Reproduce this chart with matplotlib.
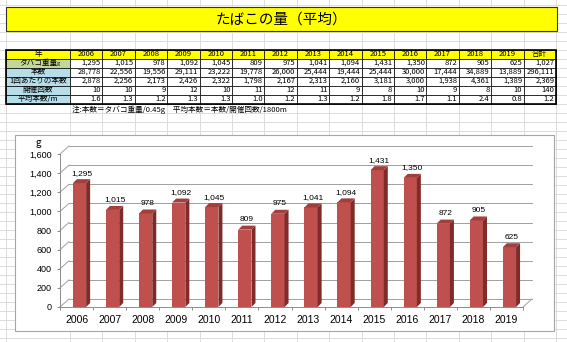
import numpy as np
import matplotlib
matplotlib.use("Agg")
import matplotlib.pyplot as plt
from matplotlib.patches import Rectangle, Polygon

plt.rcParams["font.family"] = ["Noto Sans CJK JP", "DejaVu Sans"]

# ---- data ----
title = "たばこの量（平均）"
row_labels = ["年", "タバコ重量", "本数", "1回あたりの本数", "開催回数", "平均本数/m"]
years = [2006, 2007, 2008, 2009, 2010, 2011, 2012, 2013, 2014, 2015, 2016, 2017, 2018, 2019]
weight = [1295, 1015, 978, 1092, 1045, 809, 975, 1041, 1094, 1431, 1350, 872, 905, 625]
count = [28778, 22556, 19556, 29111, 23222, 19778, 26000, 25444, 19444, 25444, 30000, 17444, 34889, 13889]
per_event = [2878, 2256, 2173, 2426, 2322, 1798, 2167, 2313, 2160, 3181, 3000, 1938, 4361, 1389]
events = [10, 10, 9, 12, 10, 11, 12, 11, 9, 8, 10, 9, 8, 10]
avg_per_m = [1.6, 1.3, 1.2, 1.3, 1.3, 1.0, 1.2, 1.3, 1.2, 1.8, 1.7, 1.1, 2.4, 0.8]
totals = ["1,027", "296,111", "2,369", "140", "1.2"]
note = "注:本数＝タバコ重量/0.45g　平均本数＝本数/開催回数/1800m"
y_ticks = [0, 200, 400, 600, 800, 1000, 1200, 1400, 1600]

W, H = 567, 342
fig = plt.figure(figsize=(W / 100, H / 100), dpi=100)

# sheet background in pixel units
bg = fig.add_axes([0, 0, 1, 1])
bg.set_xlim(0, W)
bg.set_ylim(H, 0)
bg.axis("off")

col_w = 32.4
col_edges = [6] + [70 + col_w * k for k in range(16)]
row_h = 9.0
top = 49.5
for x in col_edges:
    bg.axvline(x, color="#DCDCDC", lw=0.7, zorder=0)
for y in np.arange(top - 5 * row_h, H, row_h):
    bg.axhline(y, color="#DCDCDC", lw=0.7, zorder=0)

# title bar
bg.add_patch(Rectangle((6, 7), 551, 24, facecolor="#FFFF00", edgecolor="#333333", lw=0.8, zorder=2))
bg.text(281, 19.5, title, ha="center", va="center", fontsize=10.5, zorder=3)

# table
fmt_rows = [
    [f"{v:,}" for v in weight],
    [f"{v:,}" for v in count],
    [f"{v:,}" for v in per_event],
    [str(v) for v in events],
    [f"{v:.1f}" for v in avg_per_m],
]
label_colors = ["#FFFF00", "#C4D79B", "#B7DEE8", "#B7DEE8", "#B7DEE8", "#B7DEE8"]
for r in range(6):
    y0 = top + r * row_h
    bg.add_patch(Rectangle((col_edges[0], y0), col_edges[1] - col_edges[0], row_h,
                           facecolor=label_colors[r], edgecolor="black", lw=0.5, zorder=2))
    bg.text((col_edges[0] + col_edges[1]) / 2, y0 + row_h / 2, row_labels[r],
            ha="center", va="center", fontsize=5.5, zorder=3)
    for c in range(15):
        x0 = col_edges[c + 1]
        face = "#FFFF00" if r == 0 else "white"
        bg.add_patch(Rectangle((x0, y0), col_w, row_h, facecolor=face, edgecolor="black", lw=0.5, zorder=2))
        if r == 0:
            txt = str(years[c]) if c < 14 else "合計"
            bg.text(x0 + col_w / 2, y0 + row_h / 2, txt, ha="center", va="center", fontsize=5.5, zorder=3)
        else:
            txt = fmt_rows[r - 1][c] if c < 14 else totals[r - 1]
            bg.text(x0 + col_w - 1.5, y0 + row_h / 2, txt, ha="right", va="center", fontsize=5.5, zorder=3)
bg.text(58, top + 1.6 * row_h, "g", ha="center", va="center", fontsize=4, zorder=3)
bg.add_patch(Rectangle((col_edges[0], top), col_edges[-1] - col_edges[0], 6 * row_h,
                       facecolor="none", edgecolor="black", lw=1.2, zorder=4))
bg.text(72, top + 6 * row_h + 6.5, note, ha="left", va="center", fontsize=5.5, zorder=3)

# chart box
bg.add_patch(Rectangle((15, 135), 539, 196, facecolor="white", edgecolor="#A6A6A6", lw=0.8, zorder=2))
bg.text(38, 142.5, "g", ha="center", va="center", fontsize=7, zorder=3)

# chart axes
ax = fig.add_axes([60 / W, (H - 307) / H, 463 / W, 153 / H])
ax.patch.set_visible(False)
ax.set_xlim(-0.5, 13.5)
ax.set_ylim(0, 1600)
for s in ["top", "right"]:
    ax.spines[s].set_visible(False)
for s in ["left", "bottom"]:
    ax.spines[s].set_color("#8C8C8C")
    ax.spines[s].set_linewidth(0.7)

x = np.arange(len(years))
ax.set_yticks(y_ticks)
ax.set_yticklabels([f"{v:,}" for v in y_ticks], family="Liberation Sans")
ax.tick_params(axis="y", length=2.5, width=0.7, color="#8C8C8C", pad=3.5, labelsize=6.5)
ax.set_xticks(x)
ax.set_xticklabels([str(v) for v in years], family="Liberation Sans")
ax.set_xticks(np.arange(-0.5, len(years)), minor=True)
ax.tick_params(axis="x", which="major", length=0, pad=6, labelsize=7.5)
ax.tick_params(axis="x", which="minor", length=2.5, width=0.7, color="#8C8C8C")


def px_to_data(dx, dy):
    p0 = ax.transData.transform((0, 0))
    q = ax.transData.inverted().transform(p0 + np.array([dx, dy]))
    return q[0], q[1]


# 3-D wall depth and bar depth
wdx, wdy = px_to_data(9, 8)
bdx, bdy = px_to_data(4, 4)

grid_kw = dict(color="#A0A0A0", lw=0.7, clip_on=False, zorder=1)
for v in y_ticks:
    ax.plot([-0.5 + wdx, 13.5 + wdx], [v + wdy, v + wdy], **grid_kw)
    ax.plot([-0.5, -0.5 + wdx], [v, v + wdy], **grid_kw)
ax.plot([13.5, 13.5 + wdx], [0, wdy], **grid_kw)

bw = 0.40
xc = x + 0.09
ax.bar(xc, weight, width=bw, color="#C0504D", zorder=3)
for xi, v in zip(xc, weight):
    xl, xr = xi - bw / 2, xi + bw / 2
    ax.add_patch(Polygon([(xr, 0), (xr + bdx, bdy), (xr + bdx, v + bdy), (xr, v)],
                         closed=True, facecolor="#7E2B29", edgecolor="none", zorder=3, clip_on=False))
    ax.add_patch(Polygon([(xl, v), (xl + bdx, v + bdy), (xr + bdx, v + bdy), (xr, v)],
                         closed=True, facecolor="#A23F3C", edgecolor="none", zorder=3, clip_on=False))
    ax.annotate(f"{v:,}", (xi + bdx / 2, v), xytext=(0, 7.2), textcoords="offset points",
                ha="center", va="center", fontsize=6, family="Liberation Sans", zorder=4)

fig.savefig("out.png", dpi=100)
